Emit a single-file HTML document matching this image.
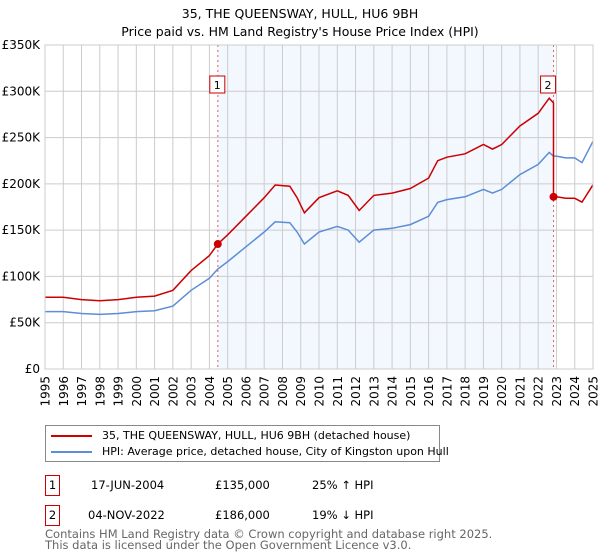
<!DOCTYPE html>
<html><head><meta charset="utf-8"><style>
body{margin:0;background:#fff;width:600px;height:560px;overflow:hidden;font-family:"DejaVu Sans","Liberation Sans",sans-serif}
.nw{white-space:nowrap}
</style></head><body>
<svg id="c" width="600" height="560" xmlns="http://www.w3.org/2000/svg" style="position:absolute;left:0;top:0;font-family:'DejaVu Sans','Liberation Sans',sans-serif">
<text x="300" y="18" text-anchor="middle" font-size="12.5" fill="#000">35, THE QUEENSWAY, HULL, HU6 9BH</text>
<text x="300" y="36" text-anchor="middle" font-size="12.5" fill="#000">Price paid vs. HM Land Registry's House Price Index (HPI)</text>
</svg>
<script>
const years=[1995,1996,1997,1998,1999,2000,2001,2002,2003,2004,2005,2006,2007,2008,2009,2010,2011,2012,2013,2014,2015,2016,2017,2018,2019,2020,2021,2022,2023,2024,2025];
const yTicks=[0,50000,100000,150000,200000,250000,300000,350000];
const yTickLabels=["£0","£50K","£100K","£150K","£200K","£250K","£300K","£350K"];
const hpiDates=[1995,1996,1997,1998,1999,2000,2001,2002,2003,2004,2004.46,2005,2006,2007,2007.6,2008.4,2008.8,2009.2,2010,2011,2011.6,2012.2,2013,2014,2015,2016,2016.5,2017,2018,2019,2019.5,2020,2021,2022,2022.6,2022.84,2023,2023.5,2024,2024.4,2025];
const hpiValues=[62000,62000,60000,59000,60000,62000,63000,68000,85000,98000,108000,116000,132000,148000,159000,158000,148000,135000,148000,154000,150000,137000,150000,152000,156000,165000,180000,183000,186000,194000,190000,194000,210000,221000,234000,230000,230000,228000,228000,223000,246000];
const saleDates=[2004.46,2022.84];
const salePrices=[135000,186000];
const saleLabels=["1","2"];
const labelOffsets=[-8,-13];

const NS="http://www.w3.org/2000/svg",svg=document.getElementById('c');
const X0=45,X1=593,Y0=369,Y1=45;
const xs=t=>X0+(t-1995)/(2025-1995)*(X1-X0);
const ys=v=>Y0-v/350000*(Y0-Y1);
function mk(tag,a,p){const e=document.createElementNS(NS,tag);for(const k in a)e.setAttribute(k,a[k]);(p||svg).appendChild(e);return e;}
function hpiAt(t){for(let i=1;i<hpiDates.length;i++){if(t<=hpiDates[i]){const f=(t-hpiDates[i-1])/(hpiDates[i]-hpiDates[i-1]);return hpiValues[i-1]+f*(hpiValues[i]-hpiValues[i-1]);}}return hpiValues[hpiValues.length-1];}

let r=mk('rect',{x:xs(saleDates[0]),y:Y1,width:xs(saleDates[1])-xs(saleDates[0]),height:Y0-Y1,fill:'#eef3fd',opacity:0.7});


years.forEach(y=>{let l=mk('line',{x1:xs(y),x2:xs(y),y1:Y1,y2:Y0,stroke:'#cccccc','stroke-width':1});


let x=xs(y)+4.5,yy=376;
let t=mk('text',{x:x,y:yy,'text-anchor':'end','font-size':12,fill:'#000',transform:'rotate(-90 '+x+' '+yy+')'});t.textContent=y;

});
yTicks.forEach((v,i)=>{let l=mk('line',{x1:X0,x2:X1,y1:ys(v),y2:ys(v),stroke:'#cccccc','stroke-width':1});


let t=mk('text',{x:40,y:ys(v)+4,'text-anchor':'end','font-size':12,fill:'#000'});t.textContent=yTickLabels[i];

});
saleDates.forEach((d,i)=>{let l=mk('line',{x1:xs(d),x2:xs(d),y1:Y1,y2:Y0,stroke:'#e06060','stroke-width':1,'stroke-dasharray':'2,3'});

});
let hp=hpiDates.map((d,i)=>xs(d).toFixed(1)+','+ys(hpiValues[i]).toFixed(1)).join(' ');
let hl=mk('polyline',{points:hp,fill:'none',stroke:'#5b8ed6','stroke-width':1.5});


const f1=salePrices[0]/hpiAt(saleDates[0]),f2=salePrices[1]/hpiAt(saleDates[1]);
let pts=[];
hpiDates.forEach((d,i)=>{if(d<saleDates[1])pts.push([d,hpiValues[i]*f1]);});
pts.push([saleDates[1],hpiAt(saleDates[1])*f1]);
pts.push([saleDates[1],salePrices[1]]);
hpiDates.forEach((d,i)=>{if(d>saleDates[1])pts.push([d,hpiValues[i]*f2]);});
let pl=mk('polyline',{points:pts.map(p=>xs(p[0]).toFixed(1)+','+ys(p[1]).toFixed(1)).join(' '),fill:'none',stroke:'#cc0000','stroke-width':1.5});


saleDates.forEach((d,i)=>{let c=mk('circle',{cx:xs(d),cy:ys(salePrices[i]),r:4,fill:'#cc0000'});


let g=mk('g',{});


const bx=xs(d)+labelOffsets[i];
mk('rect',{x:bx,y:76,width:15,height:17,fill:'#fff',stroke:'#cc0000'},g);
let t=mk('text',{x:bx+7.5,y:89,'text-anchor':'middle','font-size':11,fill:'#000'},g);t.textContent=saleLabels[i];});
let b=mk('rect',{x:X0,y:Y1,width:X1-X0,height:Y0-Y1,fill:'none',stroke:'#cccccc'});


</script>
<div style="position:absolute;left:45px;top:425px;width:393px;height:35px;border:1px solid #888;font-size:11px;">
<div class="nw" style="position:absolute;left:5px;top:3px"><span style="display:inline-block;width:41px;height:2px;background:#cc0000;vertical-align:middle;margin-right:10px"></span>35, THE QUEENSWAY, HULL, HU6 9BH (detached house)</div>
<div class="nw" style="position:absolute;left:5px;top:19px"><span style="display:inline-block;width:41px;height:2px;background:#5b8ed6;vertical-align:middle;margin-right:10px"></span>HPI: Average price, detached house, City of Kingston upon Hull</div>
</div>
<div style="position:absolute;left:0;top:0;font-size:11.5px">
<div style="position:absolute;left:45px;top:475px;width:13px;height:19px;border:1px solid #cc0000;text-align:center;line-height:19px">1</div>
<div class="nw" style="position:absolute;left:91px;top:478px">17-JUN-2004</div>
<div class="nw" style="position:absolute;left:215px;top:478px">£135,000</div>
<div class="nw" style="position:absolute;left:312px;top:478px">25% ↑ HPI</div>
<div style="position:absolute;left:45px;top:505px;width:13px;height:19px;border:1px solid #cc0000;text-align:center;line-height:19px">2</div>
<div class="nw" style="position:absolute;left:88px;top:508px">04-NOV-2022</div>
<div class="nw" style="position:absolute;left:215px;top:508px">£186,000</div>
<div class="nw" style="position:absolute;left:312px;top:508px">19% ↓ HPI</div>
</div>
<div class="nw" style="position:absolute;left:45px;top:529px;font-size:11.5px;color:#666;line-height:11px">Contains HM Land Registry data © Crown copyright and database right 2025.<br>This data is licensed under the Open Government Licence v3.0.</div>
</body></html>
